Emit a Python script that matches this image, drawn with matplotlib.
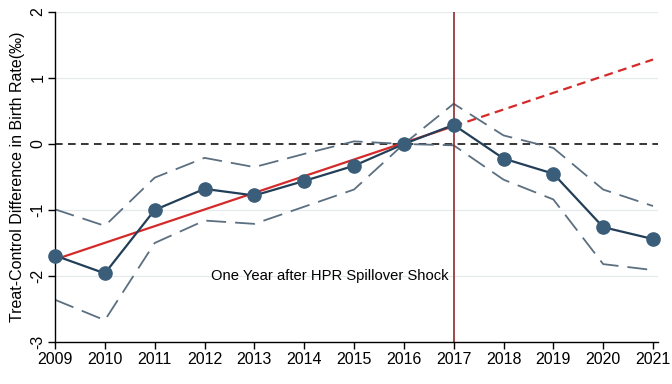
import matplotlib
matplotlib.use("Agg")
import matplotlib.pyplot as plt

years = [2009, 2010, 2011, 2012, 2013, 2014, 2015, 2016, 2017, 2018, 2019, 2020, 2021]
coef = [-1.69, -1.96, -1.00, -0.68, -0.78, -0.56, -0.33, 0.00, 0.29, -0.22, -0.45, -1.26, -1.44]
upper = [-0.99, -1.24, -0.51, -0.21, -0.35, -0.15, 0.04, 0.00, 0.61, 0.13, -0.06, -0.69, -0.94]
lower = [-2.36, -2.67, -1.50, -1.16, -1.21, -0.95, -0.69, 0.00, -0.02, -0.54, -0.84, -1.82, -1.91]
trend_pre_x = [2009, 2017]
trend_pre_y = [-1.75, 0.27]
trend_post_x = [2017, 2021]
trend_post_y = [0.27, 1.28]
shock_year = 2017
yticks = [-3, -2, -1, 0, 1, 2]
annotation = "One Year after HPR Spillover Shock"
ylabel = "Treat-Control Difference in Birth Rate(‰)"

plt.rcParams['font.family'] = ['Liberation Sans', 'DejaVu Sans']

fig = plt.figure(figsize=(6.72, 3.84), dpi=100)
ax = fig.add_axes([55/672, 1-342/384, (658-55)/672, (342-12)/384])

for y in [-2, -1, 1, 2]:
    ax.axhline(y, color='#E6EAED', lw=0.9, zorder=0)
ax.axhline(0, color='black', lw=1.1, ls=(0, (5, 3.5)), zorder=1)

ci_color = '#5B6F80'
ax.plot(years, upper, color=ci_color, lw=1.3, ls=(0, (11, 5)), zorder=2)
ax.plot(years, lower, color=ci_color, lw=1.3, ls=(0, (11, 5)), zorder=2)

ax.axvline(shock_year, color='#8E2A2A', lw=1.2, zorder=2)

ax.plot(trend_pre_x, trend_pre_y, color='#D42A2A', lw=1.6, zorder=3)
ax.plot(trend_post_x, trend_post_y, color='#D42A2A', lw=1.6, ls=(0, (4, 2.5)), zorder=3)

ax.plot(years, coef, color='#233F58', lw=1.6, marker='o', ms=9.5,
        mfc='#3A5D7A', mec='#3A5D7A', zorder=4, clip_on=False)

ax.text(shock_year - 0.1, -2.0, annotation, ha='right', va='center', fontsize=10.6)

ax.set_xlim(2009, 2021.1)
ax.set_ylim(-3, 2)
ax.set_xticks(years)
ax.set_xticklabels([str(y) for y in years], fontsize=11.5)
ax.set_yticks(yticks)
ax.set_yticklabels([str(y) for y in yticks], fontsize=11.5, rotation=90, va='center')
ax.set_ylabel(ylabel, fontsize=11.5, labelpad=4)
for s in ['top', 'right']:
    ax.spines[s].set_visible(False)
ax.spines['left'].set_linewidth(1.0)
ax.spines['bottom'].set_linewidth(1.0)
ax.tick_params(length=5, width=1.0, pad=2)

fig.savefig('out.png', dpi=100)
